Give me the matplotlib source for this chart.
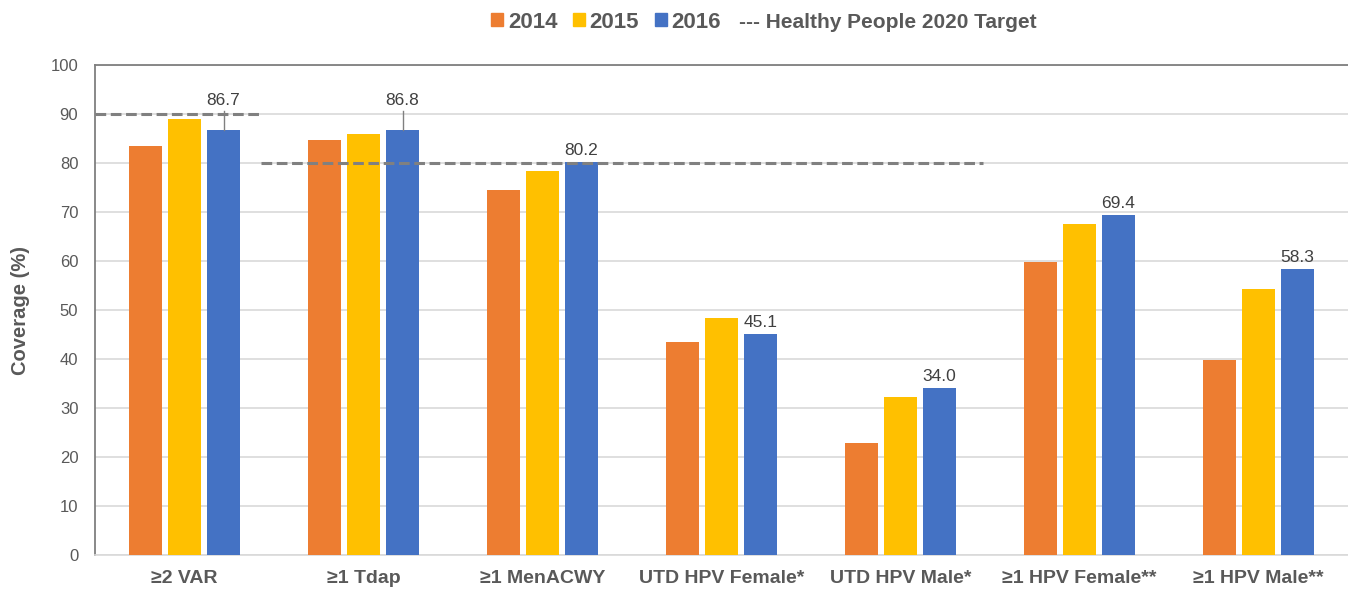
import numpy as np
import matplotlib.pyplot as plt
from matplotlib.patches import Patch

plt.rcParams['font.family'] = ['Liberation Sans', 'DejaVu Sans']

# datos
categorias = ['≥2 VAR', '≥1 Tdap', '≥1 MenACWY', 'UTD HPV Female*',
              'UTD HPV Male*', '≥1 HPV Female**', '≥1 HPV Male**']
anios = ['2014', '2015', '2016']
cob_2014 = [83.5, 84.7, 74.5, 43.5, 22.9, 59.8, 39.8]
cob_2015 = [89.0, 85.9, 78.4, 48.4, 32.2, 67.6, 54.3]
cob_2016 = [86.7, 86.8, 80.2, 45.1, 34.0, 69.4, 58.3]
meta_var = 90
meta_resto = 80

colores = ['#ED7D31', '#FFC000', '#4472C4']
gris = '#595959'

fig = plt.figure(figsize=(13.48, 5.9), dpi=100)
ax = fig.add_axes([0.0705, 0.0593, 0.9295, 0.8305])

x = np.arange(len(categorias))
ancho = 0.184
paso = 0.218

for i, serie in enumerate([cob_2014, cob_2015, cob_2016]):
    ax.bar(x + (i - 1) * paso, serie, width=ancho, color=colores[i], zorder=3)

# etiquetas solo para 2016
for j, v in enumerate(cob_2016):
    xb = x[j] + paso
    if j < 2:
        ax.plot([xb, xb], [v, 90.6], color='#808080', lw=1, zorder=4)
        ax.text(xb, 91.3, f'{v:.1f}', ha='center', va='bottom', fontsize=12.5, color='#404040')
    else:
        ax.text(xb, v + 0.8, f'{v:.1f}', ha='center', va='bottom', fontsize=12.5, color='#404040')

# lineas de meta
ax.hlines(meta_var, -0.5, 0.43, colors='#808080', linestyles=(0, (3.5, 1.5)), lw=2.2, zorder=4)
ax.hlines(meta_resto, 0.43, 4.46, colors='#808080', linestyles=(0, (3.5, 1.5)), lw=2.2, zorder=4)

ax.set_xlim(-0.5, 6.5)
ax.set_ylim(0, 100)
ax.set_yticks(range(0, 101, 10))
ax.set_xticks(x)
ax.set_xticklabels(categorias, fontsize=14, fontweight='bold', color=gris)
ax.tick_params(axis='y', labelsize=12, labelcolor=gris, length=0, pad=12)
ax.tick_params(axis='x', length=0, pad=11)
ax.grid(axis='y', color='#D9D9D9', lw=1.2, zorder=0)
ax.set_axisbelow(True)

ax.spines['right'].set_visible(False)
ax.spines['left'].set_color('#7F7F7F')
ax.spines['top'].set_color('#7F7F7F')
ax.spines['left'].set_linewidth(1.3)
ax.spines['top'].set_linewidth(1.3)
ax.spines['bottom'].set_color('#D9D9D9')
ax.spines['bottom'].set_linewidth(1.2)

ax.set_ylabel('Coverage (%)', fontsize=14.5, fontweight='bold', color=gris, labelpad=15)

handles = [Patch(color=c) for c in colores]
fig.legend(handles, anios, loc='center', bbox_to_anchor=(606 / 1348, 1 - 22 / 590), ncol=3,
           frameon=False, handlelength=0.55, handleheight=0.55, handletextpad=0.2,
           columnspacing=0.7, prop={'size': 16, 'weight': 'bold'}, labelcolor=gris)
fig.text(739 / 1348, 1 - 22 / 590, '--- Healthy People 2020 Target', ha='left', va='center',
         fontsize=15, fontweight='bold', color=gris)

plt.savefig('out.png', dpi=100)
